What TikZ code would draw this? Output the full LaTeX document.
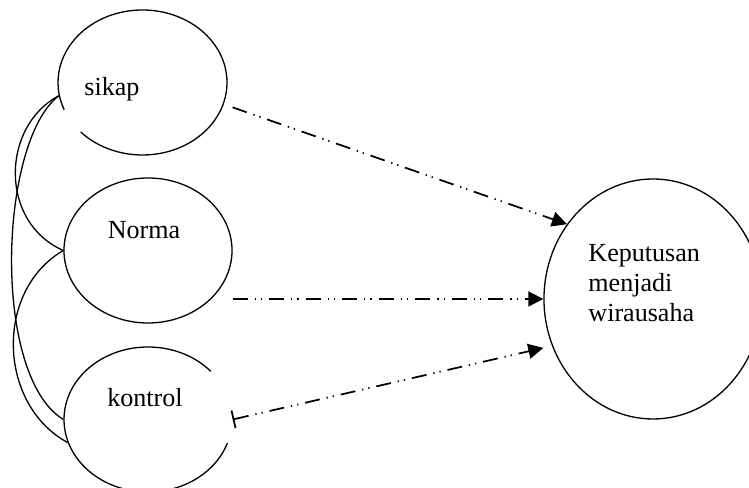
\documentclass[tikz,border=0pt]{standalone}
\usepackage{fontspec}
\setmainfont{Liberation Serif}
\usetikzlibrary{arrows.meta,shapes.geometric}

\begin{document}
\begin{tikzpicture}[
  x=0.46pt, y=-0.46pt,
  oval/.style={ellipse,draw,line width=0.6pt,inner sep=0pt,minimum width=77.3pt,minimum height=66.7pt},
  txt/.style={font=\fontsize{12}{13.8}\selectfont,inner sep=0pt},
  link/.style={line width=0.6pt},
  flow/.style={line width=0.8pt,dash pattern=on 6.9pt off 3.2pt on 0.6pt off 2.3pt on 0.6pt off 3.2pt,
    -{Triangle[length=6.9pt,width=6.9pt]}}
]
  \useasboundingbox (0,0) rectangle (749,488);

  % the three factors, the decision on the right
  \node[oval,draw=none,minimum width=77.7pt] (sikap) at (142.5,82.5) {};
  \node[oval] (norma) at (148,250.5) {};
  \node[oval,draw=none] (kontrol) at (148,419.5) {};
  \node[oval,minimum width=100.3pt,minimum height=110.4pt] (kep) at (653,299) {};

  % outlines with their small breaks
  \draw[link] ([shift={(223:38.87pt and 33.35pt)}]sikap.center)
    arc[start angle=223,end angle=562,x radius=38.87pt,y radius=33.35pt];
  \draw[link] ([shift={(41.5:38.64pt and 33.35pt)}]kontrol.center)
    arc[start angle=41.5,end angle=341,x radius=38.64pt,y radius=33.35pt];

  \node[txt] (sikapT) at (112,89) {sikap};
  \node[txt] (normaT) at (144,230) {Norma};
  \node[txt] (kontrolT) at (145,398) {kontrol};
  \node[txt,align=left,anchor=west] (kepT) at (588,283) {Keputusan\\menjadi\\wirausaha};

  % correlations
  \draw[link] (sikap.189) .. controls +(-58,31) and +(-64,-28) .. (norma.west);
  \draw[link] (sikap.189) .. controls +(-60,46) and +(-72,-44) .. (kontrol.west);
  \draw[link] (norma.west) .. controls +(-69,40) and +(-70,-38) .. (kontrol.196);

  % effects
  \draw[flow,shorten <=4.3pt] (sikap.-15) -- (kep.139);
  \draw[flow] (norma.east |- kep.west) -- (kep.west);
  \draw[flow,{Bar[width=8.3pt]}-{Triangle[length=6.9pt,width=6.9pt]}] (kontrol.east) -- ([yshift=-22.5pt]kep.west);
\end{tikzpicture}
\end{document}
